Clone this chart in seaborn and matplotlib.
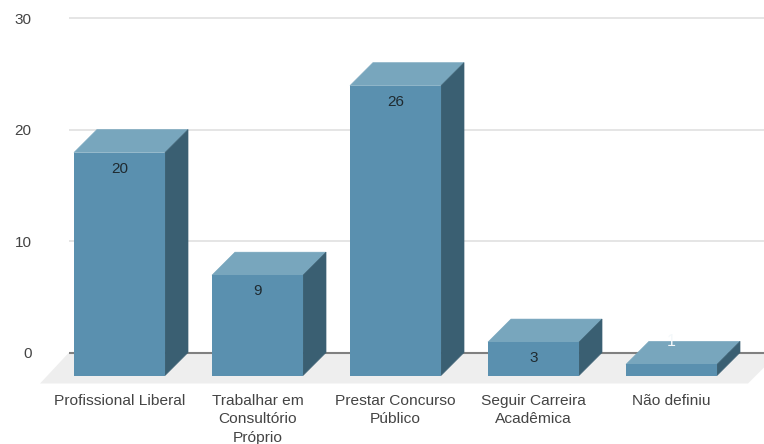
import matplotlib
matplotlib.use("Agg")
import matplotlib.pyplot as plt
from matplotlib.patches import Polygon
import pandas as pd
import seaborn as sns

# Survey answers: career plans after graduation
categories = [
    "Profissional Liberal",
    "Trabalhar em\nConsultório\nPróprio",
    "Prestar Concurso\nPúblico",
    "Seguir Carreira\nAcadêmica",
    "Não definiu",
]
values = [20, 9, 26, 3, 1]
y_ticks = [0, 10, 20, 30]

FRONT = "#5a90af"
TOP = "#78a6bd"
SIDE = "#3a5f72"
FLOOR = "#eeeeee"
GRID = "#dedede"
BASELINE = "#808080"
TEXT = "#444444"

W, H = 764, 444
sns.set_theme(style="white")
plt.rcParams["font.family"] = ["Liberation Sans", "DejaVu Sans"]

fig = plt.figure(figsize=(W / 100, H / 100), dpi=100)

# Axes frame in figure pixels; its bottom edge is the front of the floor
left_px, right_px, top_px, bottom_px = 69, 764, 17, 375.5
ax = fig.add_axes([left_px / W, 1 - bottom_px / H,
                   (right_px - left_px) / W, (bottom_px - top_px) / H])

df = pd.DataFrame({"categoria": categories, "valor": values})
sns.barplot(data=df, x="categoria", y="valor", color=FRONT, saturation=1,
            width=0.66, linewidth=0, edgecolor="none", ax=ax, zorder=4)

# Scales: 138 px per category, 11.15 px per unit
step_px, unit_px, depth_px = 138.0, 11.15, 23.0
ax.set_xlim((left_px - 119.5) / step_px, (right_px - 119.5) / step_px)
ax.set_ylim(0, (bottom_px - top_px) / unit_px)
dx, dy = depth_px / step_px, depth_px / unit_px
x0, x1 = ax.get_xlim()

# Floor plane, running past the frame on both sides
floor_out = 29 / step_px
ax.add_patch(Polygon([(x0 - floor_out, -8 / unit_px), (x1 - 16 / step_px, -8 / unit_px),
                      (x1 + 15 / step_px, dy), (x0, dy)],
                     closed=True, facecolor=FLOOR, edgecolor="none",
                     clip_on=False, zorder=1))

# Gridlines sit on the back wall, shifted up by the depth of the box
for t in y_ticks:
    ax.hlines(t + dy, x0, x1, color=BASELINE if t == 0 else GRID,
              lw=1.5 if t == 0 else 1.1, zorder=2)

# Extrude each bar into a box and label it
for patch, v in zip(ax.patches, values):
    xl, w = patch.get_x(), patch.get_width()
    xr = xl + w
    ax.add_patch(Polygon([(xl, v), (xr, v), (xr + dx, v + dy), (xl + dx, v + dy)],
                         closed=True, facecolor=TOP, edgecolor=TOP, lw=0.4, zorder=3))
    ax.add_patch(Polygon([(xr, 0), (xr + dx, dy), (xr + dx, v + dy), (xr, v)],
                         closed=True, facecolor=SIDE, edgecolor=SIDE, lw=0.4, zorder=3))
    xc = xl + w / 2
    if v < 2:
        ax.text(xc, v + dy, str(v), ha="center", va="center",
                fontsize=11.5, color="#f4f8fa", zorder=5)
    else:
        ax.text(xc, v - 1.45, str(v), ha="center", va="center",
                fontsize=11, color="#1f2a30", zorder=5)

ax.set_xlabel("")
ax.set_ylabel("")
ax.set_yticks([t + dy for t in y_ticks], [str(t) for t in y_ticks])
ax.tick_params(axis="y", length=0, pad=27, labelsize=11, labelcolor=TEXT)
ax.tick_params(axis="x", length=0, pad=13.2, labelsize=11.15, labelcolor=TEXT)
for lab in ax.get_xticklabels():
    lab.set_linespacing(1.4)
sns.despine(ax=ax, left=True, bottom=True)

fig.savefig("out.png", dpi=100, facecolor="white")
